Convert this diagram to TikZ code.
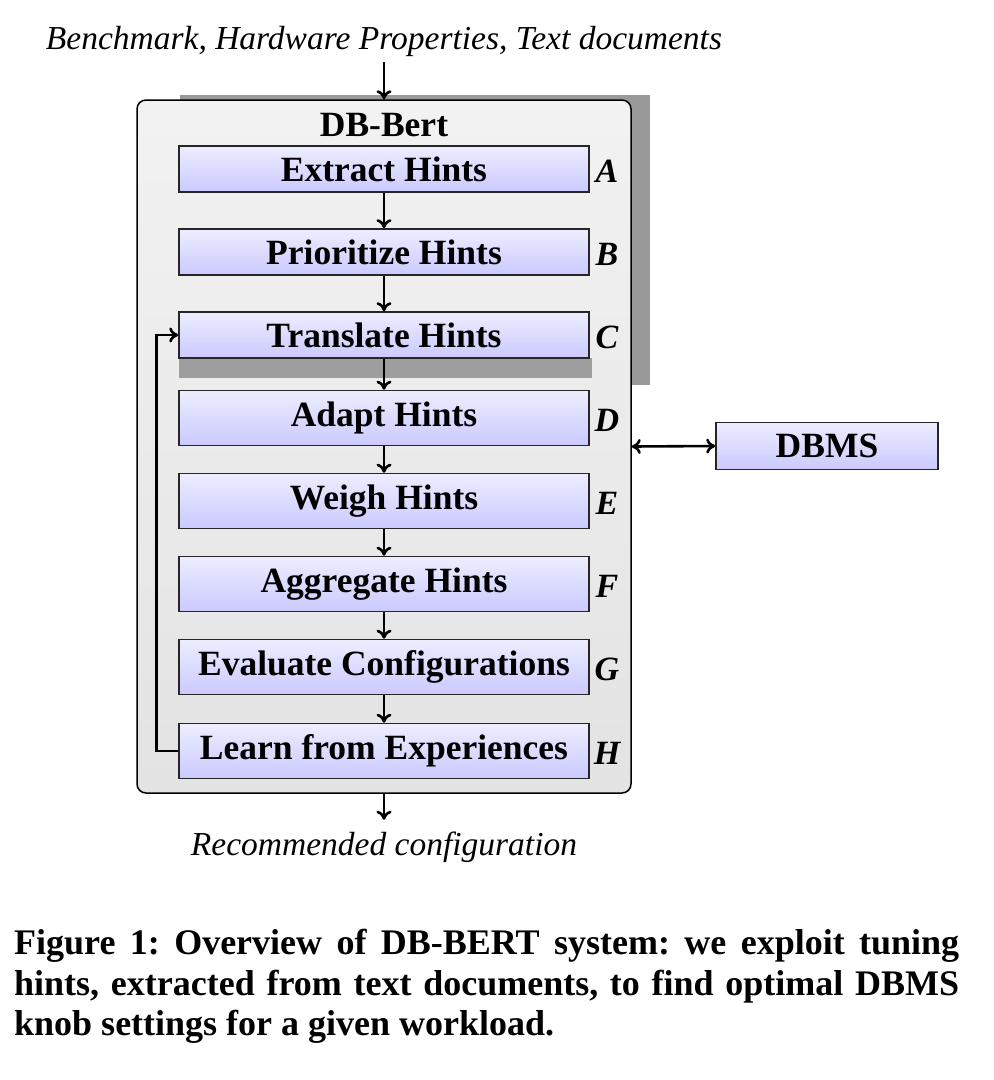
\documentclass[tikz,border=0pt]{standalone}
\usepackage{fontspec}
\setmainfont{Liberation Serif}
\usetikzlibrary{arrows.meta,positioning}
\tikzset{
  hint/.style={draw=black!85, line width=1.6pt, top color=blue!7, bottom color=blue!21,
    minimum width=410pt, inner sep=0pt, font=\fontsize{35.5}{40}\selectfont\bfseries},
  lab/.style={inner sep=0pt, font=\fontsize{34}{40}\selectfont\bfseries\itshape},
  outer/.style={draw=black, line width=1.5pt, rounded corners=9pt, top color=black!5, bottom color=black!11,
    minimum width=494pt, minimum height=693pt, inner sep=0pt},
  arr/.style={-{To[length=9pt,width=15pt]}, line width=2.6pt},
  darr/.style={{To[length=9pt,width=15pt]}-{To[length=9pt,width=15pt]}, line width=2.6pt},
  ital/.style={inner sep=0pt, font=\fontsize{33.5}{40}\selectfont\itshape},
}
\begin{document}
\frenchspacing
\begin{tikzpicture}[x=1pt,y=-1pt]
\useasboundingbox (0,0) rectangle (994,1080);
% shadow
\fill[black!40] (180,95) rectangle (650,385);
\node[outer] (db) at (384,446.5) {};
\fill[black!38] (179,358) rectangle (592,378);
\node[inner sep=0pt, font=\fontsize{35.5}{40}\selectfont\bfseries] (title) at (384,125) {DB-Bert};
\node[ital] (top) at (384,41) {Benchmark, Hardware Properties, Text documents};
\node[ital] (rec) at (384,847) {Recommended configuration};

\node[hint, minimum height=46pt] (A) at (384,169) {Extract Hints};
\node[hint, minimum height=46pt] (B) at (384,252) {Prioritize Hints};
\node[hint, minimum height=46pt] (C) at (384,335) {Translate Hints};
\node[hint, minimum height=55pt] (D) at (384,418) {Adapt Hints};
\node[hint, minimum height=55pt] (E) at (384,501) {Weigh Hints};
\node[hint, minimum height=55pt] (F) at (384,584) {Aggregate Hints};
\node[hint, minimum height=55pt] (G) at (384,667) {Evaluate Configurations};
\node[hint, minimum height=55pt] (H) at (384,751) {Learn from Experiences};

\node[lab] (la) at (607,171) {A};
\node[lab] (lb) at (607,254) {B};
\node[lab] (lc) at (607,337) {C};
\node[lab] (ld) at (607,420) {D};
\node[lab] (le) at (607,503) {E};
\node[lab] (lf) at (607,586) {F};
\node[lab] (lg) at (607,669) {G};
\node[lab] (lh) at (607,753) {H};

\node[hint, minimum width=222pt, minimum height=47pt] (dbms) at (827,446) {DBMS};

\coordinate (tin) at (384,62);
\draw[arr] (tin) -- (db.north);
\draw[arr] (A) -- (B);
\draw[arr] (B) -- (C);
\draw[arr] (C) -- (D);
\draw[arr] (D) -- (E);
\draw[arr] (E) -- (F);
\draw[arr] (F) -- (G);
\draw[arr] (G) -- (H);
\draw[arr] (H.west) -- ++(-22,0) |- (C.west);
\draw[darr] (db.east) -- (dbms.west);
\draw[arr] (db.south) -- ++(0,26) coordinate (out);

\node[anchor=north west, inner sep=0pt, text width=945pt, align=justify,
  font=\fontsize{36}{40.5}\selectfont\bfseries] (cap) at (14,929)
  {Figure 1: Overview of DB-BERT system: we exploit tuning\linebreak
   hints, extracted from text documents, to find optimal DBMS\linebreak
   knob settings for a given workload.};
\end{tikzpicture}
\end{document}
